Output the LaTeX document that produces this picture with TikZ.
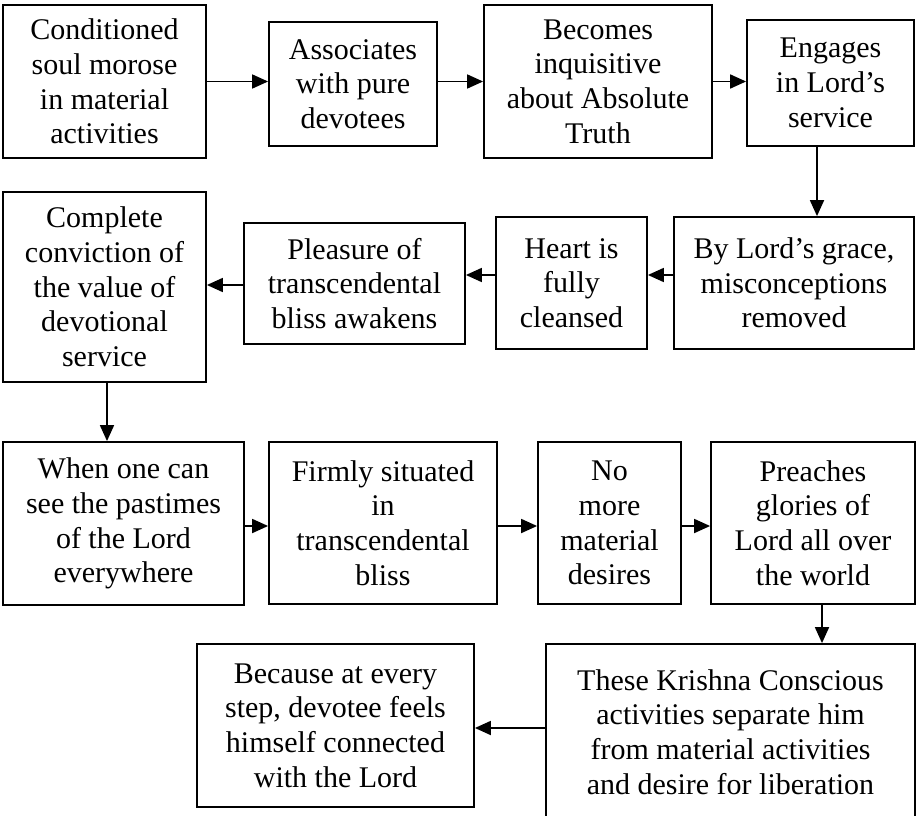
\documentclass[tikz,border=0pt]{standalone}
\usepackage{fontspec}
\setmainfont{Liberation Serif}
\usetikzlibrary{arrows.meta}
\tikzset{
  box/.style={draw, line width=1.8pt, rectangle, inner sep=0pt, align=center,
    font=\fontsize{30}{34.7}\selectfont},
  arr/.style={draw, line width=1.8pt, -{Triangle[length=16pt,width=14pt]}}
}
\begin{document}
\begin{tikzpicture}[x=1pt,y=-1pt]
\clip (0,0) rectangle (918,816);
\useasboundingbox (0,0) rectangle (918,816);
% row 1
\node[box, minimum width=203, minimum height=153] (A) at (104.5,81.5) {Conditioned\\soul morose\\in material\\activities};
\node[box, minimum width=168, minimum height=124] (B) at (353,84) {Associates\\with pure\\devotees};
\node[box, minimum width=228, minimum height=153] (C) at (598,81.5) {Becomes\\inquisitive\\about Absolute\\Truth};
\node[box, minimum width=167, minimum height=126] (D) at (830.5,83) {Engages\\in Lord’s\\service};
% row 2
\node[box, minimum width=240, minimum height=132] (E) at (794,283) {By Lord’s grace,\\misconceptions\\removed};
\node[box, minimum width=151, minimum height=132] (F) at (571.5,283) {Heart is\\fully\\cleansed};
\node[box, minimum width=221, minimum height=121] (G) at (354.5,283.5) {Pleasure of\\transcendental\\bliss awakens};
\node[box, minimum width=203, minimum height=190] (H) at (104.5,287) {Complete\\conviction of\\the value of\\devotional\\service};
% row 3
\node[box, minimum width=241, minimum height=163] (I) at (123.5,523.5) {When one can\\see the pastimes\\of the Lord\\everywhere};
\node[box, minimum width=228, minimum height=162] (J) at (383,523) {Firmly situated\\in\\transcendental\\bliss};
\node[box, minimum width=143, minimum height=162] (K) at (609.5,523) {No\\more\\material\\desires};
\node[box, minimum width=204, minimum height=162] (L) at (813,523) {Preaches\\glories of\\Lord all over\\the world};
% row 4
\node[box, minimum width=369, minimum height=176] (M) at (730.5,732) {These Krishna Conscious\\activities separate him\\from material activities\\and desire for liberation};
\node[box, minimum width=277, minimum height=163] (N) at (335.5,725.5) {Because at every\\step, devotee feels\\himself connected\\with the Lord};
% connectors
\draw[arr] (A.east) -- (A.east -| B.west);
\draw[arr] (C.west -| B.east) -- (C.west);
\draw[arr] (C.east) -- (C.east -| D.west);
\draw[arr] ([xshift=-13.5pt]D.south) -- ([xshift=-13.5pt]D.south |- E.north);
\draw[arr] ([yshift=8pt]E.west) -- ([yshift=8pt]E.west -| F.east);
\draw[arr] ([yshift=8pt]F.west) -- ([yshift=8pt]F.west -| G.east);
\draw[arr] ([yshift=-1.5pt]G.west) -- ([yshift=-1.5pt]G.west -| H.east);
\draw[arr] ([xshift=2.5pt]H.south) -- ([xshift=2.5pt]H.south |- I.north);
\draw[arr] ([yshift=-2.5pt]I.east) -- ([yshift=-2.5pt]I.east -| J.west);
\draw[arr] ([yshift=-3pt]J.east) -- ([yshift=-3pt]J.east -| K.west);
\draw[arr] ([yshift=-3pt]K.east) -- ([yshift=-3pt]K.east -| L.west);
\draw[arr] ([xshift=9pt]L.south) -- ([xshift=9pt]L.south |- M.north);
\draw[arr] ([yshift=4pt]M.west) -- ([yshift=4pt]M.west -| N.east);
\end{tikzpicture}
\end{document}
